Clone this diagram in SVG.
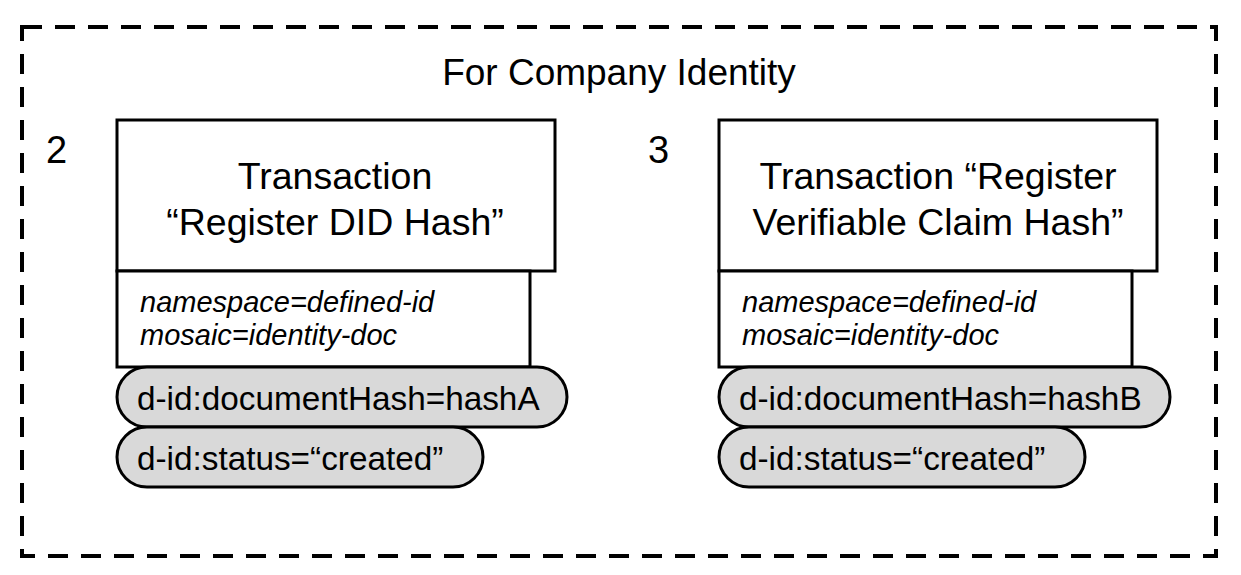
<svg xmlns="http://www.w3.org/2000/svg" width="1241" height="575" viewBox="0 0 1241 575">
<style>
.box{fill:#fff;stroke:#000;stroke-width:3}
.pill{fill:#d9d9d9;stroke:#000;stroke-width:3}
.t{font-family:"Liberation Sans",Arial,sans-serif;fill:#000}
.title{font-size:37.5px;text-anchor:middle}
.num{font-size:38px}
.it{font-size:29px;font-style:italic}
.pt{font-size:33.3px}
</style>
<rect width="1241" height="575" fill="#fff"/>
<g id="frame">
<rect x="22" y="27" width="1194" height="529" fill="none" stroke="#000" stroke-width="4" stroke-dasharray="20 13"/>
<text class="t" x="619" y="85" font-size="37" text-anchor="middle">For Company Identity</text>
</g>
<g id="tx2">
<text class="t num" x="46" y="163">2</text>
<rect class="box" x="117" y="120" width="438" height="151"/>
<text class="t title" x="335" y="189">Transaction</text>
<text class="t title" x="335" y="235">“Register DID Hash”</text>
<rect class="box" x="117" y="271" width="413" height="96"/>
<text class="t it" x="140" y="312">namespace=defined-id</text>
<text class="t it" x="140" y="345">mosaic=identity-doc</text>
<rect class="pill" x="117" y="367" width="450" height="60" rx="30"/>
<text class="t pt" x="137" y="410">d-id:documentHash=hashA</text>
<rect class="pill" x="117" y="427" width="366" height="60" rx="30"/>
<text class="t pt" x="137" y="470">d-id:status=“created”</text>
</g>
<g id="tx3">
<text class="t num" x="648" y="163">3</text>
<rect class="box" x="719" y="120" width="438" height="151"/>
<text class="t title" x="938" y="189">Transaction “Register</text>
<text class="t title" x="938" y="235">Verifiable Claim Hash”</text>
<rect class="box" x="719" y="271" width="413" height="96"/>
<text class="t it" x="742" y="312">namespace=defined-id</text>
<text class="t it" x="742" y="345">mosaic=identity-doc</text>
<rect class="pill" x="719" y="367" width="451" height="60" rx="30"/>
<text class="t pt" x="739" y="410">d-id:documentHash=hashB</text>
<rect class="pill" x="719" y="427" width="366" height="60" rx="30"/>
<text class="t pt" x="739" y="470">d-id:status=“created”</text>
</g>
<g id="connectors"></g>
</svg>
